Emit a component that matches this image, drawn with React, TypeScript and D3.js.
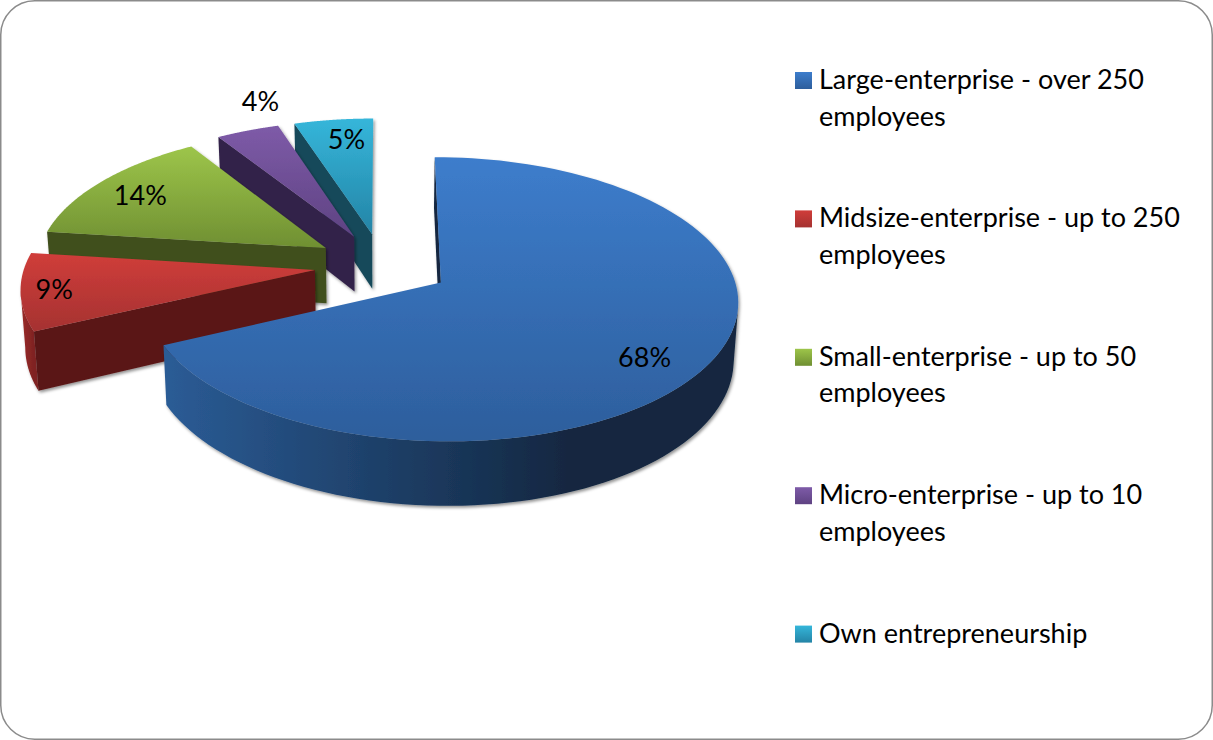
import React from "react";
import * as d3 from "d3";

// Share of respondents by company size
const categories = [
  ["Large-enterprise - over 250", "employees"],
  ["Midsize-enterprise - up to 250", "employees"],
  ["Small-enterprise - up to 50", "employees"],
  ["Micro-enterprise - up to 10", "employees"],
  ["Own entrepreneurship"],
];
const shares = [68, 9, 14, 4, 5];

// Slice colours: top-face gradient, wall shade, rim gradient
const topLight = ["#3d7dcc", "#d03d3a", "#9dc54a", "#7e5ba8", "#35b6da"];
const topDark = ["#2d5e9c", "#a53231", "#6f8f32", "#5e4282", "#2484a6"];
const wallShade = ["#12263f", "#5a1817", "#414f1c", "#33224a", "#17485a"];
const rimLight = ["#2b5c96", "#9c2c2a", "#6a8530", "#4f3870", "#1f728e"];
const rimDark = ["#12263f", "#7f2322", "#566c27", "#3f2c5a", "#195d74"];

// Label offsets from the projected mid-slice point, in px
const labelNudge = [[5, 16], [-41, 3], [-15, -2], [-12, -54], [4, -7]];

// Projection of the tilted pie onto the page
const W = 1213;
const H = 740;
const cx = 382.5;
const cy = 265;
const radiusX = 290;
const radiusY = 136;
const depth = 0.117;
const explode = 0.235;
const wall = 56;

type Pt = [number, number];

function project(X: number, Z: number): Pt {
  const d = 1 + depth * Z;
  return [cx + (radiusX * X) / d, cy - (radiusY * Z) / d];
}

function dropped(X: number, Z: number): Pt {
  const d = 1 + depth * Z;
  const [x, y] = project(X, Z);
  return [cx + (x - cx) * 0.987, y + wall / d];
}

const pieGen = d3.pie<number>().sort(null).value((v) => v).startAngle(0).endAngle(2 * Math.PI);
const arcs = pieGen(shares);
const line = d3.line();

function ground(a: { startAngle: number; endAngle: number }, r: number, theta: number): [number, number] {
  const mid = (a.startAngle + a.endAngle) / 2;
  return [explode * Math.sin(mid) + r * Math.sin(theta), explode * Math.cos(mid) + r * Math.cos(theta)];
}

function buildSlice(a: { startAngle: number; endAngle: number }) {
  const steps = d3.range(0, 121).map((i) => a.startAngle + ((a.endAngle - a.startAngle) * i) / 120);
  const rim = steps.map((t) => ground(a, 1, t));
  const apex = ground(a, 0, 0);

  const outline: Pt[] = [project(apex[0], apex[1]), ...rim.map((g) => project(g[0], g[1]))];
  const topPath = line(outline) + "Z";

  // Straight wall along the leading cut of the slice
  const first = rim[0];
  const edgePath =
    line([
      project(apex[0], apex[1]),
      project(first[0], first[1]),
      dropped(first[0], first[1]),
      dropped(apex[0], apex[1]),
    ]) + "Z";

  // Curved wall: only the stretch that turns toward the viewer
  const front = rim.filter((g, i) => {
    const next = rim[Math.min(i + 1, rim.length - 1)];
    const prev = rim[Math.max(i - 1, 0)];
    return project(next[0], next[1])[0] - project(prev[0], prev[1])[0] < 0;
  });
  const rimPath =
    front.length > 1
      ? line([
          ...front.map((g) => project(g[0], g[1])),
          ...front.slice().reverse().map((g) => dropped(g[0], g[1])),
        ]) + "Z"
      : "";
  const xs = front.map((g) => project(g[0], g[1])[0]);
  return { topPath, edgePath, rimPath, x0: d3.min(xs) ?? 0, x1: d3.max(xs) ?? 1 };
}

const slices = arcs.map(buildSlice);
const order = d3.range(shares.length).reverse();

const labelPoints = arcs.map((a, i) => {
  const mid = (a.startAngle + a.endAngle) / 2;
  const g = ground(a, 0.75, mid);
  const p = project(g[0], g[1]);
  return [p[0] + labelNudge[i][0], p[1] + labelNudge[i][1]];
});

const fontFamily = "Lato, Carlito, Calibri, sans-serif";
const fontSize = 27;
const legendX = 795;
const legendTop = 72;
const legendStep = 138.4;
const swatch = 17;
const lineGap = 36.5;

export default function App() {
  return (
    <svg
      width={W}
      height={H}
      viewBox={`0 0 ${W} ${H}`}
      style={{ position: "absolute", left: 0, top: 0, display: "block" }}
      fontFamily={fontFamily}
    >
      <defs>
        <filter id="soft" x="-10%" y="-10%" width="125%" height="125%">
          <feDropShadow dx="1.5" dy="2" stdDeviation="1.8" floodColor="#000" floodOpacity="0.42" />
        </filter>
        {shares.map((_, i) => (
          <linearGradient key={i} id={`top${i}`} x1="0" y1="0" x2="0" y2="1">
            <stop offset="0" stopColor={topLight[i]} />
            <stop offset="1" stopColor={topDark[i]} />
          </linearGradient>
        ))}
        {slices.map((s, i) => (
          <linearGradient key={i} id={`rim${i}`} gradientUnits="userSpaceOnUse" x1={s.x0} y1="0" x2={s.x1} y2="0">
            <stop offset="0" stopColor={rimLight[i]} />
            <stop offset={i === 0 ? 0.72 : 1} stopColor={rimDark[i]} />
            <stop offset="1" stopColor={rimDark[i]} />
          </linearGradient>
        ))}
      </defs>

      <rect x="0.75" y="0.75" width={W - 1.5} height={H - 1.5} rx="34" fill="#fff" stroke="#8b8b8b" strokeWidth="1.5" />

      {order.map((i) => (
        <g key={i} filter="url(#soft)">
          {slices[i].rimPath && <path d={slices[i].rimPath} fill={`url(#rim${i})`} />}
          <path d={slices[i].edgePath} fill={wallShade[i]} />
          <path d={slices[i].topPath} fill={`url(#top${i})`} />
        </g>
      ))}

      {shares.map((v, i) => (
        <text key={i} x={labelPoints[i][0]} y={labelPoints[i][1]} dy="0.35em" textAnchor="middle" fontSize={fontSize} fill="#000">
          {v}%
        </text>
      ))}

      {categories.map((lines, i) => {
        const y = legendTop + i * legendStep;
        return (
          <g key={i}>
            <rect x={legendX} y={y} width={swatch} height={swatch} fill={`url(#top${i})`} />
            {lines.map((t, j) => (
              <text key={j} x={legendX + 24} y={y + 17 + j * lineGap} fontSize={fontSize} fill="#000">
                {t}
              </text>
            ))}
          </g>
        );
      })}
    </svg>
  );
}
